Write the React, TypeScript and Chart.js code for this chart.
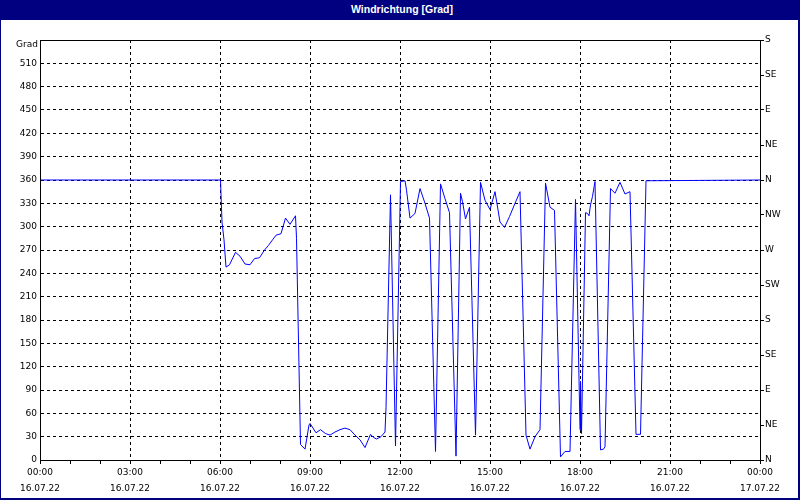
import React, { useEffect, useRef } from 'react';
import { Chart, registerables } from 'chart.js';

Chart.register(...registerables);

// Time of each reading in minutes after 16.07.22 00:00
const times = [
  0, 361, 364, 368, 372, 379, 391, 400, 410, 420,
  429, 439, 449, 457, 465, 472, 482, 491, 500, 511,
  513, 521, 530, 538, 540, 552, 561, 571, 580, 590,
  600, 610, 620, 630, 640, 650, 661, 667, 673, 682,
  690, 692, 701, 711, 721, 730, 733, 740, 750, 760,
  770, 779, 791, 801, 810, 819, 832, 841, 845, 851,
  859, 871, 881, 890, 900, 910, 920, 929, 939, 950,
  960, 972, 980, 990, 1000, 1011, 1020, 1029, 1041, 1050,
  1060, 1071, 1080, 1081, 1083, 1091, 1095, 1098, 1101, 1105,
  1110, 1121, 1127, 1130, 1141, 1150, 1160, 1170, 1180, 1192,
  1201, 1212, 1440,
];

// Wind direction in degrees
const directions = [
  360, 360, 306, 283, 248, 251, 267, 262, 252, 251,
  259, 260, 270, 276, 283, 289, 291, 311, 303, 314,
  285, 20, 14, 45, 47, 35, 39, 34, 32, 36,
  39, 41, 39, 32, 26, 16, 33, 29, 27, 30,
  36, 67, 341, 18, 358, 359, 347, 311, 317, 349,
  330, 311, 11, 355, 336, 318, 5, 343, 332, 310,
  325, 32, 357, 334, 322, 345, 306, 299, 313, 330,
  345, 32, 14, 30, 39, 356, 325, 321, 4, 11,
  11, 335, 39, 101, 34, 318, 317, 314, 328, 339,
  358, 13, 14, 17, 349, 343, 357, 342, 345, 33,
  33, 359, 360,
];

const majorTimeLabels = ['00:00', '03:00', '06:00', '09:00', '12:00', '15:00', '18:00', '21:00', '00:00'];
const majorDateLabels = ['16.07.22', '16.07.22', '16.07.22', '16.07.22', '16.07.22', '16.07.22', '16.07.22', '16.07.22', '17.07.22'];
const compassLabels = ['N', 'NE', 'E', 'SE', 'S', 'SW', 'W', 'NW', 'N', 'NE', 'E', 'SE', 'S'];
const leftUnit = 'Grad';
const chartTitle = 'Windrichtung [Grad]';

const FONT = "'DejaVu Sans', sans-serif";
const FONT_SIZE = 9;

export default function App() {
  const ref = useRef<HTMLCanvasElement>(null);

  useEffect(() => {
    document.body.style.margin = '0';
    if (!ref.current) return;

    const framePlugin = {
      id: 'frame',
      afterDraw(chart: any) {
        const { ctx, chartArea: a } = chart;
        ctx.save();
        ctx.strokeStyle = '#000';
        ctx.lineWidth = 1;
        ctx.setLineDash([]);
        ctx.strokeRect(
          Math.round(a.left) + 0.5,
          Math.round(a.top) + 0.5,
          Math.round(a.right - a.left),
          Math.round(a.bottom - a.top)
        );
        ctx.fillStyle = '#000';
        ctx.font = `${FONT_SIZE}px ${FONT}`;
        ctx.textAlign = 'right';
        ctx.textBaseline = 'middle';
        ctx.fillText(leftUnit, a.left - 2, a.top + 5);
        ctx.restore();
      },
    };

    const font = { family: FONT, size: FONT_SIZE };

    const chart = new Chart(ref.current, {
      type: 'line',
      data: {
        datasets: [
          {
            data: times.map((t, i) => ({ x: t, y: directions[i] })),
            borderColor: '#0000ff',
            borderWidth: 1,
            pointRadius: 0,
            tension: 0,
            fill: false,
            xAxisID: 'x',
            yAxisID: 'y',
          },
        ],
      },
      options: {
        responsive: false,
        animation: false,
        devicePixelRatio: 1,
        layout: { padding: { top: 40, left: 0, right: 0, bottom: 0 } },
        plugins: {
          legend: { display: false },
          tooltip: { enabled: false },
          title: { display: false },
        },
        scales: {
          x: {
            type: 'linear',
            position: 'bottom',
            min: 0,
            max: 1440,
            afterFit: (s: any) => {
              s.height = 40;
            },
            ticks: {
              stepSize: 60,
              autoSkip: false,
              maxRotation: 0,
              minRotation: 0,
              padding: 1,
              color: '#000',
              font: { ...font, lineHeight: '16px' },
              callback: (v: any) => {
                const n = Number(v);
                if (n % 180 !== 0) return '';
                const i = n / 180;
                return [majorTimeLabels[i], majorDateLabels[i]];
              },
            },
            grid: {
              color: (c: any) => (c.tick && c.tick.value % 180 === 0 ? '#000' : 'rgba(0,0,0,0)'),
              tickColor: '#000',
              tickLength: 4,
              lineWidth: 1,
              drawTicks: true,
            },
            border: { display: true, color: '#000', dash: [3, 3] },
          },
          y: {
            type: 'linear',
            position: 'left',
            min: 0,
            max: 540,
            afterFit: (s: any) => {
              s.width = 40;
            },
            ticks: {
              stepSize: 30,
              autoSkip: false,
              padding: 3,
              color: '#000',
              font,
              callback: (v: any) => (Number(v) >= 540 ? '' : String(v)),
            },
            grid: { color: '#000', drawTicks: false, lineWidth: 1 },
            border: { display: true, color: '#000', dash: [3, 3] },
          },
          y2: {
            type: 'linear',
            position: 'right',
            min: 0,
            max: 540,
            afterFit: (s: any) => {
              s.width = 40;
            },
            ticks: {
              stepSize: 45,
              autoSkip: false,
              padding: 1,
              color: '#000',
              font,
              callback: (v: any) => compassLabels[Math.round(Number(v) / 45)] ?? '',
            },
            grid: { drawOnChartArea: false, drawTicks: true, tickLength: 4, tickColor: '#000' },
            border: { display: true, color: '#000' },
          },
        },
      },
      plugins: [framePlugin],
    } as any);

    return () => chart.destroy();
  }, []);

  return (
    <div style={{ position: 'absolute', left: 0, top: 0, width: 800, height: 500, background: '#fff' }}>
      <canvas ref={ref} width={800} height={500} style={{ position: 'absolute', left: 0, top: 0 }} />
      <div
        style={{
          position: 'absolute',
          left: 0,
          top: 0,
          width: 800,
          height: 20,
          boxSizing: 'border-box',
          paddingLeft: 4,
          background: '#000080',
          color: '#fff',
          fontFamily: "'Liberation Sans', sans-serif",
          fontWeight: 'bold',
          fontSize: 10.5,
          lineHeight: '19px',
          textAlign: 'center',
        }}
      >
        {chartTitle}
      </div>
      <div
        style={{
          position: 'absolute',
          left: 0,
          top: 0,
          width: 800,
          height: 500,
          boxSizing: 'border-box',
          borderLeft: '1px solid #000080',
          borderRight: '2px solid #000080',
          borderBottom: '2px solid #000080',
          pointerEvents: 'none',
        }}
      />
    </div>
  );
}
